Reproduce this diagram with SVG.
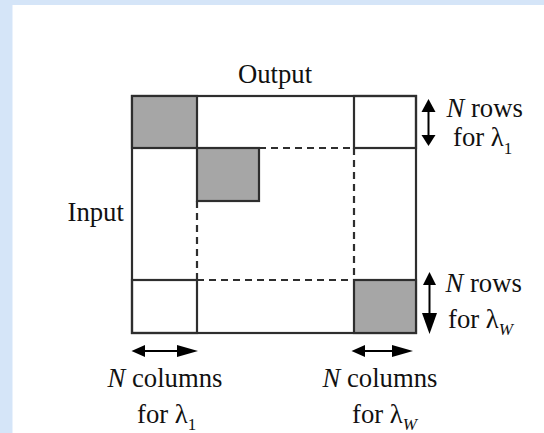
<svg xmlns="http://www.w3.org/2000/svg" width="544" height="433" viewBox="0 0 544 433">
<defs>
<style>
.ln{stroke:#2e2e2e;stroke-width:2.2;fill:none}
.ds{stroke:#2e2e2e;stroke-width:2.2;fill:none;stroke-dasharray:7,5}
.gray{fill:#a6a6a6;stroke:#2e2e2e;stroke-width:2.2}
.t{font-family:"Liberation Serif","Times New Roman",serif;font-size:26.7px;fill:#111}
.i{font-style:italic}
.sub{font-size:17px}
.ar{stroke:#000;stroke-width:2;fill:none}
.hd{fill:#000}
</style>
</defs>
<rect x="0" y="0" width="544" height="433" fill="#d5e5f8"/>
<rect x="12.5" y="5" width="532" height="428" fill="#ffffff"/>
<g id="matrix">
<rect class="ln" x="132" y="96" width="284" height="237"/>
</g>
<g id="cell-top-left"><rect class="gray" x="132" y="96" width="65" height="52"/></g>
<g id="cell-second"><rect class="gray" x="197" y="148" width="62" height="53"/></g>
<g id="cell-top-right"><rect class="ln" x="354" y="96" width="62" height="52"/></g>
<g id="cell-bottom-left"><rect class="ln" x="132" y="280" width="65" height="53"/></g>
<g id="cell-bottom-right"><rect class="gray" x="354" y="280" width="62" height="53"/></g>
<g id="dashed">
<line class="ds" x1="259" y1="148" x2="354" y2="148"/>
<line class="ds" x1="197" y1="201" x2="197" y2="280"/>
<line class="ds" x1="354" y1="148" x2="354" y2="280"/>
<line class="ds" x1="197" y1="280" x2="354" y2="280"/>
</g>
<g id="labels">
<text class="t" x="275" y="83" text-anchor="middle">Output</text>
<text class="t" x="67.5" y="221">Input</text>
<text class="t" x="446.5" y="117"><tspan class="i">N</tspan> rows</text>
<text class="t" x="453" y="146">for λ<tspan class="sub" dy="8">1</tspan></text>
<text class="t" x="445.5" y="292"><tspan class="i">N</tspan> rows</text>
<text class="t" x="448" y="328">for λ<tspan class="sub i" dy="7">W</tspan></text>
<text class="t" x="107.5" y="387"><tspan class="i">N</tspan> columns</text>
<text class="t" x="137" y="423">for λ<tspan class="sub" dy="7">1</tspan></text>
<text class="t" x="322.5" y="387"><tspan class="i">N</tspan> columns</text>
<text class="t" x="352" y="423">for λ<tspan class="sub i" dy="7">W</tspan></text>
</g>
<g id="connectors">
<line class="ar" x1="428.5" y1="108" x2="428.5" y2="137"/>
<polygon class="hd" points="428.5,99 421.5,112 435.5,112"/>
<polygon class="hd" points="428.5,146 421.5,135 435.5,135"/>
<line class="ar" x1="429.5" y1="282" x2="429.5" y2="316"/>
<polygon class="hd" points="429.5,272 423,285 436,285"/>
<polygon class="hd" points="429.5,334 422,313 437,313"/>
<line class="ar" x1="142" y1="351" x2="180" y2="351"/>
<polygon class="hd" points="131.5,351 145,345 145,357"/>
<polygon class="hd" points="198,351 177,345 177,357"/>
<line class="ar" x1="362" y1="351" x2="395" y2="351"/>
<polygon class="hd" points="351.5,351 365,345 365,357"/>
<polygon class="hd" points="413,351 392,345 392,357"/>
</g>
</svg>
